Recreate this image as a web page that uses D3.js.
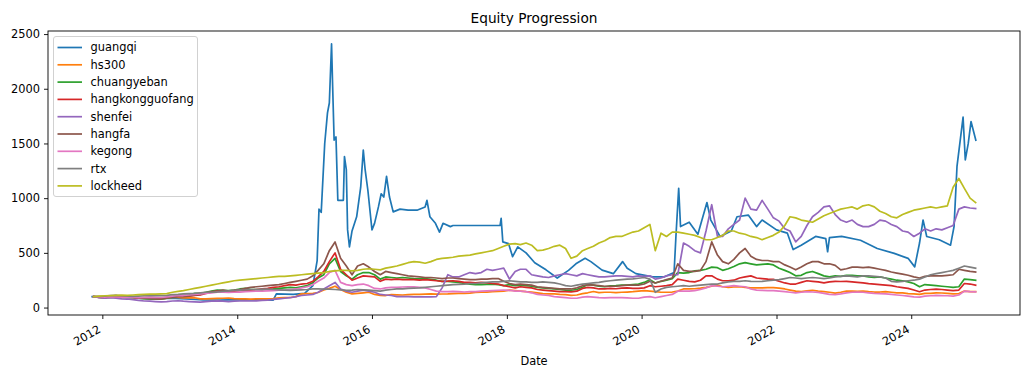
<!doctype html>
<html>
<head>
<meta charset="utf-8">
<script src="https://cdn.jsdelivr.net/npm/d3@7"></script>
<style>
  body { margin: 0; background: #fff; }
  text { font-family: "DejaVu Sans", sans-serif; }
</style>
</head>
<body>
<svg id="chart" width="1030" height="373"></svg>
<script>
// series names, in plot order
var names = ["guangqi", "hs300", "chuangyeban", "hangkongguofang", "shenfei", "hangfa", "kegong", "rtx", "lockheed"];
var colors = ["#1f77b4", "#ff7f0e", "#2ca02c", "#d62728", "#9467bd", "#8c564b", "#e377c2", "#7f7f7f", "#bcbd22"];

// monthly sampling (mid-month) from Nov 2011 to Dec 2024
var months = d3.timeMonth.range(new Date(2011, 10, 1), new Date(2025, 0, 1))
    .map(function(d) { return d3.timeDay.offset(d, 14); });

// guangqi has its own dates since it jumps around a lot
var guangqiDates = ["2011-11-07","2012-01-01","2012-04-01","2012-07-01","2012-10-01","2013-01-01","2013-04-01","2013-07-01","2013-10-01",
  "2014-01-01","2014-04-01","2014-07-15","2014-08-01","2014-11-01","2015-01-01","2015-02-15","2015-03-10","2015-03-20","2015-04-01",
  "2015-04-20","2015-05-05","2015-05-15","2015-05-27","2015-06-02","2015-06-10","2015-06-20","2015-06-30","2015-07-30","2015-08-05",
  "2015-08-15","2015-08-22","2015-09-01","2015-09-15","2015-10-10","2015-11-01","2015-11-15","2015-11-25","2015-12-10","2016-01-01",
  "2016-01-15","2016-02-05","2016-02-20","2016-03-05","2016-03-20","2016-04-05","2016-04-25","2016-06-01","2016-07-15","2016-09-01",
  "2016-10-15","2016-10-25","2016-11-10","2016-12-10","2017-01-01","2017-01-20","2017-03-01","2017-03-15","2017-11-25","2017-12-01",
  "2017-12-10","2018-01-10","2018-02-01","2018-03-01","2018-04-15","2018-06-01","2018-08-01","2018-10-01","2018-12-01","2019-01-10",
  "2019-03-01","2019-04-01","2019-06-01","2019-08-01","2019-09-20","2019-10-15","2019-12-01","2020-03-01","2020-05-01","2020-06-25",
  "2020-07-05","2020-07-20","2020-07-30","2020-09-15","2020-11-01","2020-12-20","2021-01-10","2021-03-01","2021-05-01","2021-06-01",
  "2021-08-01","2021-09-15","2021-10-15","2022-01-01","2022-03-01","2022-04-01","2022-05-15","2022-08-01","2022-09-25","2022-10-05",
  "2022-10-15","2022-12-20","2023-04-01","2023-07-01","2023-10-01","2023-12-15","2024-01-20","2024-02-15","2024-03-05","2024-03-25",
  "2024-06-01","2024-08-01","2024-08-20","2024-09-05","2024-10-08","2024-10-20","2024-11-05","2024-11-20","2024-12-16"];
var guangqi = [100,95,100,85,80,85,80,70,68,
  72,70,68,125,120,130,200,430,900,870,
  1500,1780,1870,2410,2020,1530,1560,980,980,1380,
  1260,710,555,700,830,1100,1440,1260,1070,710,
  770,920,1040,1010,1200,1010,875,900,890,890,
  920,980,830,770,690,770,740,750,750,815,
  600,585,465,555,500,410,345,270,340,400,
  450,420,342,310,420,360,310,280,280,320,
  650,1090,740,780,670,960,800,650,700,830,
  845,740,800,710,680,530,570,650,630,510,
  640,650,615,540,495,450,372,590,800,650,
  620,570,740,1290,1740,1350,1500,1700,1530];

var hs300 = [100,93,
  88,95,96,94,94,90,86,83,84,82,78,86,
  92,92,89,88,90,80,79,82,84,85,87,82,
  80,80,78,79,79,80,83,88,90,92,100,125,
  128,130,138,160,175,195,165,140,125,130,135,140,
  120,112,110,118,116,115,118,120,120,122,125,123,
  124,125,128,130,130,132,138,140,142,145,148,150,
  160,155,150,145,142,135,128,125,125,120,118,112,
  115,128,135,147,137,140,140,137,140,142,145,150,
  155,150,145,140,140,142,150,170,170,172,178,185,
  195,205,190,185,188,190,185,180,180,180,182,182,
  178,170,160,150,145,152,158,150,145,140,132,140,
  150,150,148,150,145,142,142,145,140,135,135,128,
  125,120,130,130,134,133,130,125,128,150,145,145];

var chuangyeban = [100,92,
  90,95,92,94,95,92,85,82,80,82,80,85,
  95,105,110,115,130,130,140,150,160,158,155,160,
  170,175,165,165,160,168,170,175,180,185,180,190,
  200,230,270,300,400,450,330,290,260,300,320,320,
  300,260,280,275,270,275,270,265,262,265,258,250,
  240,240,235,230,220,215,210,210,212,215,210,200,
  210,200,205,200,195,185,180,175,170,165,160,158,
  165,185,210,205,195,190,198,200,205,205,210,215,
  230,255,225,240,250,265,320,315,320,335,340,350,
  370,365,340,355,375,400,410,400,390,395,400,390,
  360,340,320,290,295,320,330,310,290,280,290,285,
  295,295,290,290,280,275,280,270,260,250,245,235,
  220,190,210,205,200,195,190,185,190,260,255,250];

var hangkongguofang = [100,95,
  92,100,98,95,100,95,88,90,92,88,85,92,
  100,105,110,105,110,115,130,140,150,150,145,150,
  155,160,160,165,170,175,185,190,200,210,205,215,
  220,240,280,330,420,500,350,300,250,270,290,285,
  280,240,260,255,260,255,255,255,250,255,250,245,
  240,242,245,240,230,230,225,230,225,220,215,200,
  190,180,190,185,180,165,160,155,150,145,145,143,
  150,175,185,180,170,170,175,172,178,180,175,175,
  180,200,190,195,200,210,260,250,240,235,250,290,
  290,260,245,245,250,270,280,290,270,265,260,258,
  240,225,215,215,230,245,240,235,225,235,240,238,
  240,235,230,225,218,215,210,205,200,190,182,175,
  160,145,160,165,168,165,160,155,160,220,215,205];

var shenfei = [100,90,
  85,90,85,80,78,72,65,60,58,55,52,55,
  60,62,58,55,52,50,55,58,62,58,55,58,
  60,62,60,62,65,68,75,80,85,90,100,110,
  115,120,140,170,200,230,170,150,140,150,160,150,
  140,120,115,110,100,100,100,98,98,98,98,100,
  180,300,280,280,300,320,310,320,350,340,350,360,
  260,330,350,350,300,290,280,275,290,300,310,300,
  290,310,300,290,280,280,285,290,290,285,280,290,
  285,290,260,270,290,300,300,590,560,520,500,700,
  940,650,650,720,760,800,1000,900,890,980,900,820,
  790,720,700,600,650,750,830,870,920,930,850,800,
  780,800,760,740,740,760,800,790,760,740,700,690,
  650,680,720,700,720,710,730,750,900,920,910,905];

var hangfa = [100,98,
  95,105,110,100,98,95,88,85,82,80,78,85,
  95,100,100,105,115,120,135,145,150,160,150,158,
  165,175,185,190,195,200,205,210,220,230,240,250,
  260,290,340,400,520,600,450,380,300,380,400,370,
  330,300,330,320,310,300,290,285,280,275,275,270,
  265,270,270,265,260,255,255,260,260,265,265,240,
  220,210,215,210,205,190,185,180,175,170,172,170,
  180,200,210,205,200,195,195,195,200,205,205,205,
  215,240,225,240,255,270,400,340,330,330,340,420,
  600,480,420,400,440,500,540,470,440,430,430,420,
  420,390,370,345,370,400,420,420,400,400,385,345,
  355,370,370,365,370,360,350,340,325,315,305,295,
  280,270,285,290,290,290,295,300,350,340,330,325];

var kegong = [100,97,
  95,100,98,96,95,92,90,92,95,93,92,97,
  105,110,110,115,120,125,130,135,140,140,138,140,
  142,145,148,150,150,152,155,158,160,165,170,180,
  190,210,240,270,320,340,230,210,200,210,215,200,
  175,170,180,185,185,188,190,190,185,180,165,150,
  145,145,148,145,142,145,145,150,152,155,158,160,
  158,150,150,145,135,120,115,110,100,95,90,85,
  85,95,100,95,90,88,90,92,90,88,85,85,
  95,100,90,100,110,120,150,150,150,155,165,180,
  200,195,190,195,200,195,190,170,160,158,155,155,
  150,145,140,135,140,145,142,138,130,120,118,125,
  135,140,142,140,135,130,128,125,120,115,110,105,
  98,95,105,108,112,110,108,105,115,150,145,143];

var rtx = [100,102,
  105,110,112,108,105,103,105,108,110,112,110,112,
  118,120,125,128,130,135,140,140,142,148,152,158,
  160,162,165,165,168,168,165,162,160,158,160,162,
  165,170,170,168,168,165,162,158,160,165,162,160,
  155,150,160,165,170,170,175,178,180,185,190,195,
  200,205,210,212,215,220,220,225,230,235,235,240,
  245,240,235,235,230,230,235,230,225,215,200,195,
  205,215,220,225,230,240,245,250,255,260,262,268,
  275,260,140,170,185,190,195,200,195,200,205,210,
  215,215,225,235,240,240,245,240,238,240,245,250,
  255,265,275,270,265,270,275,270,265,270,280,285,
  290,285,280,290,290,285,280,270,240,235,240,245,
  250,260,280,300,310,320,330,340,360,380,370,360];

var lockheed = [100,105,
  108,110,112,113,112,115,118,120,122,123,125,128,
  140,148,155,165,175,185,195,205,215,225,235,245,
  250,255,260,265,270,275,280,285,285,290,295,300,
  305,310,315,320,330,335,340,340,335,340,350,355,
  350,345,360,370,380,395,410,420,415,405,420,440,
  450,455,460,470,475,480,490,500,510,520,540,560,
  580,585,575,590,570,520,525,540,560,570,540,450,
  470,520,540,560,590,610,640,650,650,670,690,700,
  730,760,520,680,650,690,690,680,670,660,640,620,
  620,640,660,700,700,680,670,650,640,620,640,660,
  690,750,830,820,800,790,780,810,840,860,880,900,
  910,920,900,930,940,920,880,860,830,820,850,870,
  890,900,910,920,910,920,930,1100,1180,1090,1000,960];

var yTicks = [0, 500, 1000, 1500, 2000, 2500];
var xTickYears = [2012, 2014, 2016, 2018, 2020, 2022, 2024];

var parse = d3.timeParse("%Y-%m-%d");
var series = [
  guangqiDates.map(function(d, i) { return { date: parse(d), value: guangqi[i] }; })
];
[hs300, chuangyeban, hangkongguofang, shenfei, hangfa, kegong, rtx, lockheed].forEach(function(arr) {
  series.push(arr.map(function(v, i) { return { date: months[i], value: v }; }));
});

var svg = d3.select("#chart"),
    margin = { left: 48, top: 31, right: 10, bottom: 58 },
    width = 1030 - margin.left - margin.right,
    height = 373 - margin.top - margin.bottom;

var all = d3.merge(series);
var xExt = d3.extent(all, function(d) { return d.date; }),
    yExt = d3.extent(all, function(d) { return d.value; });
// matplotlib style 5% margins
var xPad = (xExt[1] - xExt[0]) * 0.05,
    yPad = (yExt[1] - yExt[0]) * 0.05;

var x = d3.scaleTime()
    .domain([new Date(+xExt[0] - xPad), new Date(+xExt[1] + xPad)])
    .range([0, width]);
var y = d3.scaleLinear()
    .domain([yExt[0] - yPad, yExt[1] + yPad])
    .range([height, 0]);

var g = svg.append("g")
    .attr("transform", "translate(" + margin.left + "," + margin.top + ")");

var fs = 11.4;

// y axis
var yAxis = g.append("g")
    .call(d3.axisLeft(y).tickValues(yTicks).tickSize(4).tickPadding(4).tickFormat(d3.format("d")));
yAxis.select(".domain").remove();
yAxis.selectAll("line").attr("stroke", "#000").attr("stroke-width", 0.9);
yAxis.selectAll("text").attr("font-size", fs).attr("fill", "#000")
    .attr("font-family", "DejaVu Sans");

// x axis
var xAxis = g.append("g")
    .attr("transform", "translate(0," + height + ")")
    .call(d3.axisBottom(x)
        .tickValues(xTickYears.map(function(yr) { return new Date(yr, 0, 1); }))
        .tickSize(4)
        .tickFormat(d3.timeFormat("%Y")));
xAxis.select(".domain").remove();
xAxis.selectAll("line").attr("stroke", "#000").attr("stroke-width", 0.9);
xAxis.selectAll("text")
    .attr("font-size", fs).attr("fill", "#000").attr("font-family", "DejaVu Sans")
    .attr("text-anchor", "end")
    .attr("y", 0).attr("dy", "0.76em")
    .attr("transform", "translate(-5.6,9) rotate(-30)");

// lines
var line = d3.line()
    .x(function(d) { return x(d.date); })
    .y(function(d) { return y(d.value); });

series.forEach(function(s, i) {
  g.append("path")
    .datum(s)
    .attr("fill", "none")
    .attr("stroke", colors[i])
    .attr("stroke-width", 1.7)
    .attr("stroke-linejoin", "round")
    .attr("stroke-linecap", "square")
    .attr("d", line);
});

// frame
g.append("rect")
    .attr("x", 0).attr("y", 0)
    .attr("width", width).attr("height", height)
    .attr("fill", "none").attr("stroke", "#000").attr("stroke-width", 0.9);

// title and axis label
svg.append("text")
    .attr("x", margin.left + width / 2).attr("y", 23)
    .attr("text-anchor", "middle").attr("font-size", 13.7)
    .text("Equity Progression");

svg.append("text")
    .attr("x", margin.left + width / 2).attr("y", 365)
    .attr("text-anchor", "middle").attr("font-size", fs)
    .text("Date");

// legend
var lg = svg.append("g").attr("transform", "translate(53.5,36.5)");
lg.append("rect")
    .attr("width", 144).attr("height", 160).attr("rx", 2.5)
    .attr("fill", "#fff").attr("fill-opacity", 0.8)
    .attr("stroke", "#cccccc").attr("stroke-width", 0.9);

names.forEach(function(n, i) {
  var ly = 11 + i * 17.3;
  lg.append("line")
    .attr("x1", 4).attr("x2", 28.5)
    .attr("y1", ly).attr("y2", ly)
    .attr("stroke", colors[i]).attr("stroke-width", 1.7);
  lg.append("text")
    .attr("x", 37).attr("y", ly).attr("dy", "0.35em")
    .attr("font-size", fs)
    .text(n);
});
</script>
</body>
</html>
